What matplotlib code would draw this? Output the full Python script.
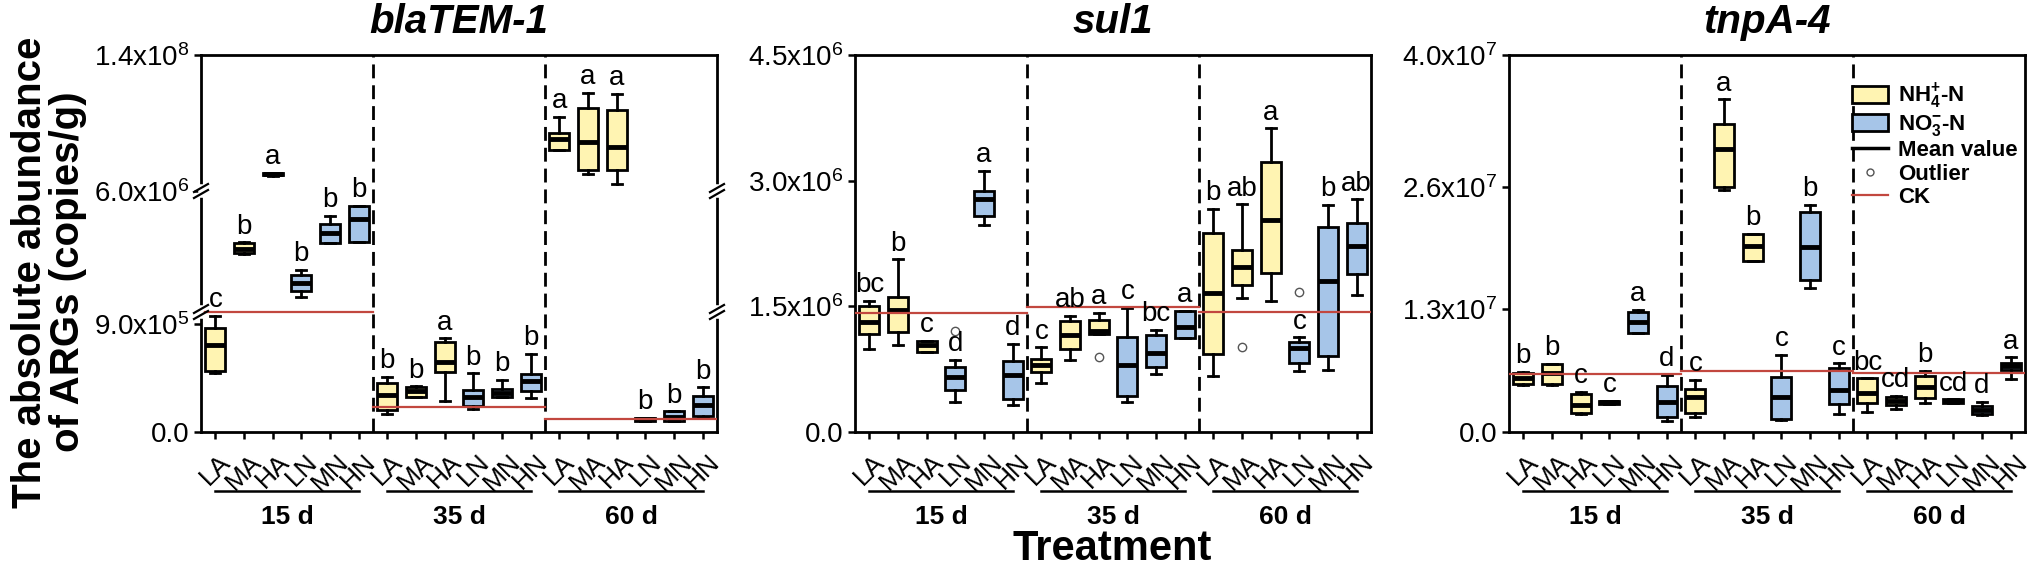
import numpy as np
import matplotlib
matplotlib.use('Agg')
import matplotlib.pyplot as plt
from matplotlib.patches import Patch
from matplotlib.lines import Line2D

plt.rcParams['font.family'] = ['Liberation Sans', 'DejaVu Sans']
plt.rcParams['mathtext.fontset'] = 'custom'
plt.rcParams['mathtext.rm'] = 'Liberation Sans'
plt.rcParams['mathtext.it'] = 'Liberation Sans:italic'
plt.rcParams['mathtext.bf'] = 'Liberation Sans:bold'

treatments = ['LA', 'MA', 'HA', 'LN', 'MN', 'HN']
days = ['15 d', '35 d', '60 d']
genes = ['blaTEM-1', 'sul1', 'tnpA-4']

# ---- blaTEM-1 (copies/g) ----
bla_q1 = [0.511e6, 3.43e6, 2.15e7, 1.88e6, 3.86e6, 3.89e6,
          0.183e6, 0.294e6, 0.497e6, 0.217e6, 0.294e6, 0.344e6,
          4.64e7, 2.67e7, 2.67e7, 0.094e6, 0.094e6, 0.133e6]
bla_med = [0.725e6, 3.6e6, 2.25e7, 2.21e6, 4.28e6, 4.86e6,
           0.308e6, 0.342e6, 0.586e6, 0.294e6, 0.328e6, 0.428e6,
           5.69e7, 5.43e7, 4.94e7, 0.106e6, 0.128e6, 0.225e6]
bla_q3 = [0.864e6, 3.84e6, 2.35e7, 2.53e6, 4.64e6, 5.38e6,
          0.411e6, 0.378e6, 0.753e6, 0.35e6, 0.356e6, 0.483e6,
          6.34e7, 8.81e7, 8.58e7, 0.117e6, 0.172e6, 0.3e6]
bla_lo = [0.494e6, 3.40e6, 2.1e7, 1.63e6, 3.84e6, 3.89e6,
          0.15e6, 0.29e6, 0.26e6, 0.189e6, 0.294e6, 0.28e6,
          4.64e7, 2.27e7, 1.26e7, 0.094e6, 0.094e6, 0.128e6]
bla_hi = [0.967e6, 3.88e6, 2.4e7, 2.74e6, 4.98e6, 5.38e6,
          0.461e6, 0.38e6, 0.78e6, 0.489e6, 0.433e6, 0.65e6,
          7.92e7, 1.03e8, 1.02e8, 0.117e6, 0.172e6, 0.372e6]
bla_out = {}
bla_ck = [1.0e6, 0.206e6, 0.106e6]
bla_letters = ['c', 'b', 'a', 'b', 'b', 'b', 'b', 'b', 'a', 'b', 'b', 'b',
               'a', 'a', 'a', 'b', 'b', 'b']

# ---- sul1 ----
sul_q1 = [1.17e6, 1.194e6, 0.955e6, 0.501e6, 2.578e6, 0.39e6,
          0.72e6, 0.991e6, 1.17e6, 0.43e6, 0.772e6, 1.118e6,
          0.931e6, 1.755e6, 1.894e6, 0.82e6, 0.907e6, 1.882e6]
sul_med = [1.317e6, 1.456e6, 1.038e6, 0.66e6, 2.777e6, 0.68e6,
           0.8e6, 1.158e6, 1.21e6, 0.8e6, 0.939e6, 1.257e6,
           1.655e6, 1.966e6, 2.531e6, 0.999e6, 1.802e6, 2.224e6]
sul_q3 = [1.504e6, 1.607e6, 1.09e6, 0.772e6, 2.873e6, 0.851e6,
          0.867e6, 1.325e6, 1.337e6, 1.13e6, 1.158e6, 1.444e6,
          2.379e6, 2.172e6, 3.223e6, 1.078e6, 2.451e6, 2.499e6]
sul_lo = [0.991e6, 1.034e6, 0.955e6, 0.362e6, 2.467e6, 0.322e6,
          0.581e6, 0.859e6, 1.17e6, 0.362e6, 0.692e6, 1.118e6,
          0.668e6, 1.603e6, 1.564e6, 0.732e6, 0.74e6, 1.635e6]
sul_hi = [1.568e6, 2.061e6, 1.09e6, 0.859e6, 3.115e6, 1.05e6,
          1.011e6, 1.385e6, 1.424e6, 1.484e6, 1.217e6, 1.444e6,
          2.666e6, 2.717e6, 3.625e6, 1.13e6, 2.71e6, 2.777e6]
sul_out = {3: [1.206e6], 8: [0.899e6], 13: [1.011e6], 15: [1.675e6]}
sul_ck = [1.416e6, 1.496e6, 1.428e6]
sul_letters = ['bc', 'b', 'c', 'd', 'a', 'd', 'c', 'ab', 'a', 'c', 'bc', 'a',
               'b', 'ab', 'a', 'c', 'b', 'ab']

# ---- tnpA-4 ----
tnp_q1 = [0.509e7, 0.509e7, 0.205e7, 0.30e7, 1.054e7, 0.163e7,
          0.198e7, 2.596e7, 1.818e7, 0.134e7, 1.613e7, 0.297e7,
          0.304e7, 0.286e7, 0.357e7, 0.304e7, 0.191e7, 0.658e7]
tnp_med = [0.569e7, 0.622e7, 0.286e7, 0.315e7, 1.171e7, 0.322e7,
           0.375e7, 2.999e7, 1.973e7, 0.375e7, 1.966e7, 0.446e7,
           0.417e7, 0.332e7, 0.474e7, 0.325e7, 0.233e7, 0.70e7]
tnp_q3 = [0.63e7, 0.721e7, 0.403e7, 0.33e7, 1.277e7, 0.488e7,
          0.453e7, 3.268e7, 2.101e7, 0.58e7, 2.331e7, 0.675e7,
          0.569e7, 0.375e7, 0.594e7, 0.347e7, 0.276e7, 0.736e7]
tnp_lo = [0.50e7, 0.50e7, 0.191e7, 0.30e7, 1.054e7, 0.12e7,
          0.163e7, 2.568e7, 1.818e7, 0.127e7, 1.524e7, 0.191e7,
          0.216e7, 0.24e7, 0.311e7, 0.304e7, 0.18e7, 0.559e7]
tnp_hi = [0.635e7, 0.721e7, 0.428e7, 0.33e7, 1.294e7, 0.605e7,
          0.552e7, 3.53e7, 2.101e7, 0.817e7, 2.409e7, 0.729e7,
          0.569e7, 0.382e7, 0.651e7, 0.347e7, 0.322e7, 0.792e7]
tnp_out = {}
tnp_ck = [0.615e7, 0.651e7, 0.622e7]
tnp_letters = ['b', 'b', 'c', 'c', 'a', 'd', 'c', 'a', 'b', 'c', 'b', 'c',
               'bc', 'cd', 'b', 'cd', 'd', 'a']

bla_ticks = [0, 9e5, 6e6, 1.4e8]
bla_ticklabels = ['0.0', r'$\mathregular{9.0x10^5}$', r'$\mathregular{6.0x10^6}$', r'$\mathregular{1.4x10^8}$']
sul_ticks = [0, 1.5e6, 3.0e6, 4.5e6]
sul_ticklabels = ['0.0', r'$\mathregular{1.5x10^6}$', r'$\mathregular{3.0x10^6}$', r'$\mathregular{4.5x10^6}$']
tnp_ticks = [0, 1.3e7, 2.6e7, 4.0e7]
tnp_ticklabels = ['0.0', r'$\mathregular{1.3x10^7}$', r'$\mathregular{2.6x10^7}$', r'$\mathregular{4.0x10^7}$']

yellow = '#FFF4B2'
blue = '#A6C5E8'
ckred = '#C2473F'

# broken axis for blaTEM-1: 0-1e6 / 1e6-6e6 / 6e6-1.4e8
brk_v = [0, 1e6, 6e6, 1.4e8]
brk_px = [0, 120, 241, 377]


def fwd(v):
    return np.interp(v, brk_v, brk_px)


def inv(y):
    return np.interp(y, brk_px, brk_v)


fig = plt.figure(figsize=(20.32, 5.77), dpi=100)
lefts = [201 / 2032, 855 / 2032, 1509 / 2032]
width = 516 / 2032
bottom = 1 - 432 / 577
height = 377 / 577


def draw_panel(ax, q1, med, q3, lo, hi, out, letters, ck, ticks, ticklabels, title):
    n = len(med)
    stats = []
    for i in range(n):
        stats.append(dict(q1=q1[i], med=med[i], q3=q3[i], whislo=lo[i], whishi=hi[i],
                          fliers=out.get(i, [])))
    bp = ax.bxp(stats, positions=np.arange(n), widths=0.7, capwidths=0.35,
                patch_artist=True, showfliers=True,
                boxprops=dict(linewidth=2, edgecolor='black'),
                medianprops=dict(color='black', linewidth=3.5),
                whiskerprops=dict(color='black', linewidth=2),
                capprops=dict(color='black', linewidth=2),
                flierprops=dict(marker='o', markerfacecolor='none',
                                markeredgecolor='#555555', markersize=6, markeredgewidth=1))
    for i, b in enumerate(bp['boxes']):
        b.set_facecolor(yellow if i % 6 < 3 else blue)
        b.set_zorder(2)

    for g in range(3):
        ax.plot([g * 6 - 0.5, g * 6 + 5.5], [ck[g], ck[g]], color=ckred, lw=1.6, zorder=3)
    for xb in (5.5, 11.5):
        ax.axvline(xb, color='black', lw=2, ls=(0, (5, 2.5)), zorder=1)

    for i in range(n):
        ax.annotate(letters[i], (i, hi[i]), xytext=(0, 2), textcoords='offset points',
                    ha='center', va='bottom', fontsize=20)

    ax.set_xlim(-0.5, n - 0.5)
    ax.set_yticks(ticks)
    ax.set_yticklabels(ticklabels)
    ax.set_xticks(np.arange(n))
    ax.set_xticklabels(treatments * 3, rotation=45, ha='center', va='top')
    ax.tick_params(axis='y', direction='out', length=5, width=1.8, labelsize=20, pad=3)
    ax.tick_params(axis='x', direction='out', length=5, width=1.8, labelsize=19, pad=8)
    for s in ax.spines.values():
        s.set_linewidth(2)

    xt = ax.get_xaxis_transform()
    for g in range(3):
        ax.plot([g * 6, g * 6 + 5], [-0.156, -0.156], color='black', lw=1.8,
                transform=xt, clip_on=False)
        ax.text(g * 6 + 2.5, -0.225, days[g], transform=xt, ha='center', va='center',
                fontsize=19, fontweight='bold')

    ax.text(0.5, 1.0875, title, transform=ax.transAxes, ha='center', va='center',
            fontsize=29, fontweight='bold', style='italic')


ax1 = fig.add_axes([lefts[0], bottom, width, height])
ax1.set_yscale('function', functions=(fwd, inv))
ax1.set_ylim(0, 1.4e8)
draw_panel(ax1, bla_q1, bla_med, bla_q3, bla_lo, bla_hi, bla_out, bla_letters, bla_ck,
           bla_ticks, bla_ticklabels, genes[0])
ax1.set_ylim(0, 1.4e8)

# break marks on both spines
for yf in (brk_px[1] / 377, brk_px[2] / 377):
    for xs in (0, 1):
        ax1.plot([xs, xs], [yf - 4 / 377, yf + 4 / 377], color='white', lw=4,
                 transform=ax1.transAxes, clip_on=False, zorder=5)
        for dy in (-3 / 377, 3 / 377):
            ax1.plot([xs - 7 / 516, xs + 7 / 516], [yf + dy - 4 / 377, yf + dy + 4 / 377],
                     color='black', lw=1.6, transform=ax1.transAxes, clip_on=False, zorder=6)

ax2 = fig.add_axes([lefts[1], bottom, width, height])
draw_panel(ax2, sul_q1, sul_med, sul_q3, sul_lo, sul_hi, sul_out, sul_letters, sul_ck,
           sul_ticks, sul_ticklabels, genes[1])
ax2.set_ylim(0, 4.5e6)

ax3 = fig.add_axes([lefts[2], bottom, width, height])
draw_panel(ax3, tnp_q1, tnp_med, tnp_q3, tnp_lo, tnp_hi, tnp_out, tnp_letters, tnp_ck,
           tnp_ticks, tnp_ticklabels, genes[2])
ax3.set_ylim(0, 4.0e7)

handles = [
    Patch(facecolor=yellow, edgecolor='black', linewidth=2, label=r'$\mathbf{NH_4^{+}}$-N'),
    Patch(facecolor=blue, edgecolor='black', linewidth=2, label=r'$\mathbf{NO_3^{-}}$-N'),
    Line2D([], [], color='black', lw=2.5, label='Mean value'),
    Line2D([], [], ls='none', marker='o', markerfacecolor='none', markeredgecolor='#555555',
           markersize=5, label='Outlier'),
    Line2D([], [], color=ckred, lw=1.6, label='CK'),
]
ax3.legend(handles=handles, loc='upper left', bbox_to_anchor=(0.665, 0.93), frameon=False,
           prop={'weight': 'bold', 'size': 16}, handlelength=1.6, handleheight=0.8,
           labelspacing=0.1, handletextpad=0.45, borderaxespad=0, borderpad=0)

fig.text(49 / 2032, 1 - 272 / 577, 'The absolute abundance\nof ARGs (copies/g)', rotation=90,
         ha='center', va='center', fontsize=29, fontweight='bold', linespacing=1.0,
         multialignment='center')
fig.text(1112 / 2032, 1 - 549 / 577, 'Treatment', ha='center', va='center',
         fontsize=30, fontweight='bold')

fig.savefig('out.png', dpi=100)
